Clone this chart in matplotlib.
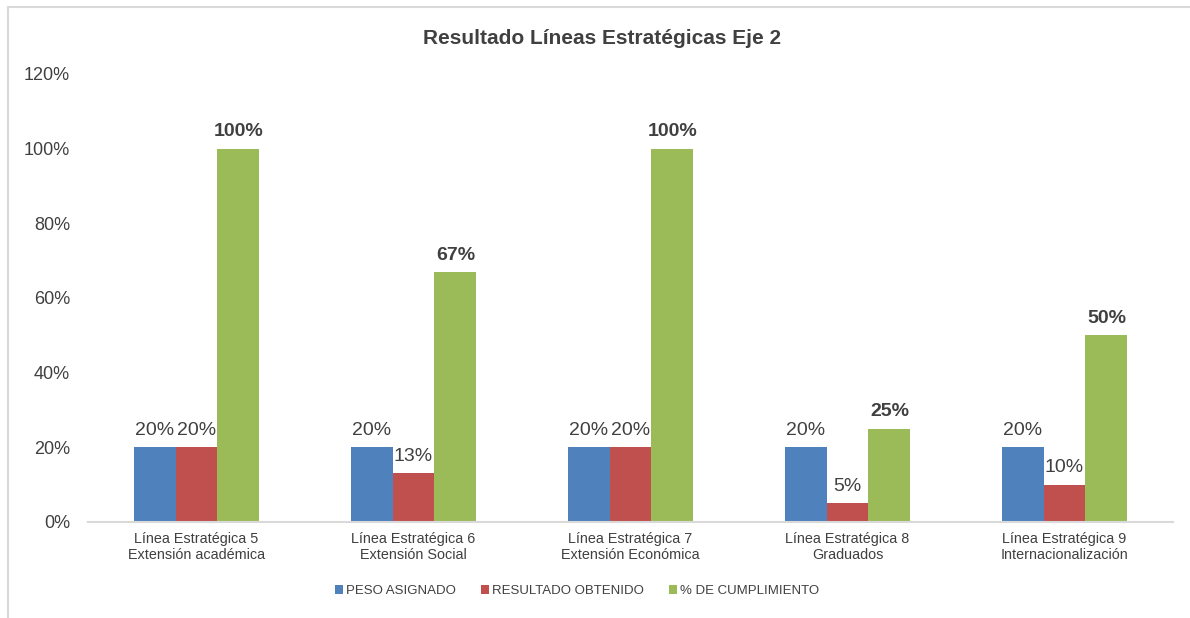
import numpy as np
import matplotlib
matplotlib.use('Agg')
import matplotlib.pyplot as plt
from matplotlib.patches import Rectangle

plt.rcParams['font.family'] = ['Liberation Sans', 'DejaVu Sans']

categorias = ['Línea Estratégica 5\nExtensión académica',
              'Línea Estratégica 6\nExtensión Social',
              'Línea Estratégica 7\nExtensión Económica',
              'Línea Estratégica 8\nGraduados',
              'Línea Estratégica 9\nInternacionalización']
series = ['PESO ASIGNADO', 'RESULTADO OBTENIDO', '% DE CUMPLIMIENTO']
peso = [0.20, 0.20, 0.20, 0.20, 0.20]
resultado = [0.20, 0.13, 0.20, 0.05, 0.10]
cumplimiento = [1.00, 0.67, 1.00, 0.25, 0.50]
colores = ['#4F81BD', '#C0504D', '#9BBB59']
texto = '#404040'

fig = plt.figure(figsize=(11.9, 6.18), dpi=100)
ax = fig.add_axes([88/1190, 1 - 522/618, (1173 - 88)/1190, (522 - 74)/618])

x = np.arange(len(categorias))
w = 0.193
valores = [peso, resultado, cumplimiento]
for i, (vals, nombre, col) in enumerate(zip(valores, series, colores)):
    pos = x + (i - 1) * w
    ax.bar(pos, vals, width=w, color=col, label=nombre)
    for p, v in zip(pos, vals):
        ax.annotate('{:.0f}%'.format(v * 100), (p, v), xytext=(0, 6),
                    textcoords='offset points', ha='center', va='bottom',
                    fontsize=14, color=texto,
                    fontweight='bold' if i == 2 else 'normal')

ax.set_xlim(-0.5, len(categorias) - 0.5)
ax.set_ylim(0, 1.2)
ax.set_yticks(np.arange(0, 1.21, 0.2))
ax.set_yticklabels(['{:.0f}%'.format(t * 100) for t in np.arange(0, 1.21, 0.2)])
ax.set_xticks(x)
ax.set_xticklabels(categorias, fontsize=10.4, color=texto, linespacing=1.25)
ax.tick_params(axis='y', length=0, labelsize=13, labelcolor=texto, pad=13)
ax.tick_params(axis='x', length=0, pad=7)
for s in ['top', 'right', 'left']:
    ax.spines[s].set_visible(False)
ax.spines['bottom'].set_color('#D9D9D9')
ax.spines['bottom'].set_linewidth(1.5)

fig.text(602/1190, 1 - 38/618, 'Resultado Líneas Estratégicas Eje 2', ha='center', va='center',
         fontsize=15, fontweight='bold', color=texto)

fig.legend(loc='center', bbox_to_anchor=(577/1190, 1 - 591/618), ncol=3, frameon=False,
           fontsize=9.5, handlelength=0.6, handleheight=0.6, handletextpad=0.25,
           columnspacing=1.9, labelcolor=texto)

fig.patches.append(Rectangle((8/1190, -0.01), 1.1, 1 - 7/618 + 0.01, transform=fig.transFigure,
                             fill=False, edgecolor='#D9D9D9', linewidth=1.5))

fig.savefig('out.png', dpi=100)
